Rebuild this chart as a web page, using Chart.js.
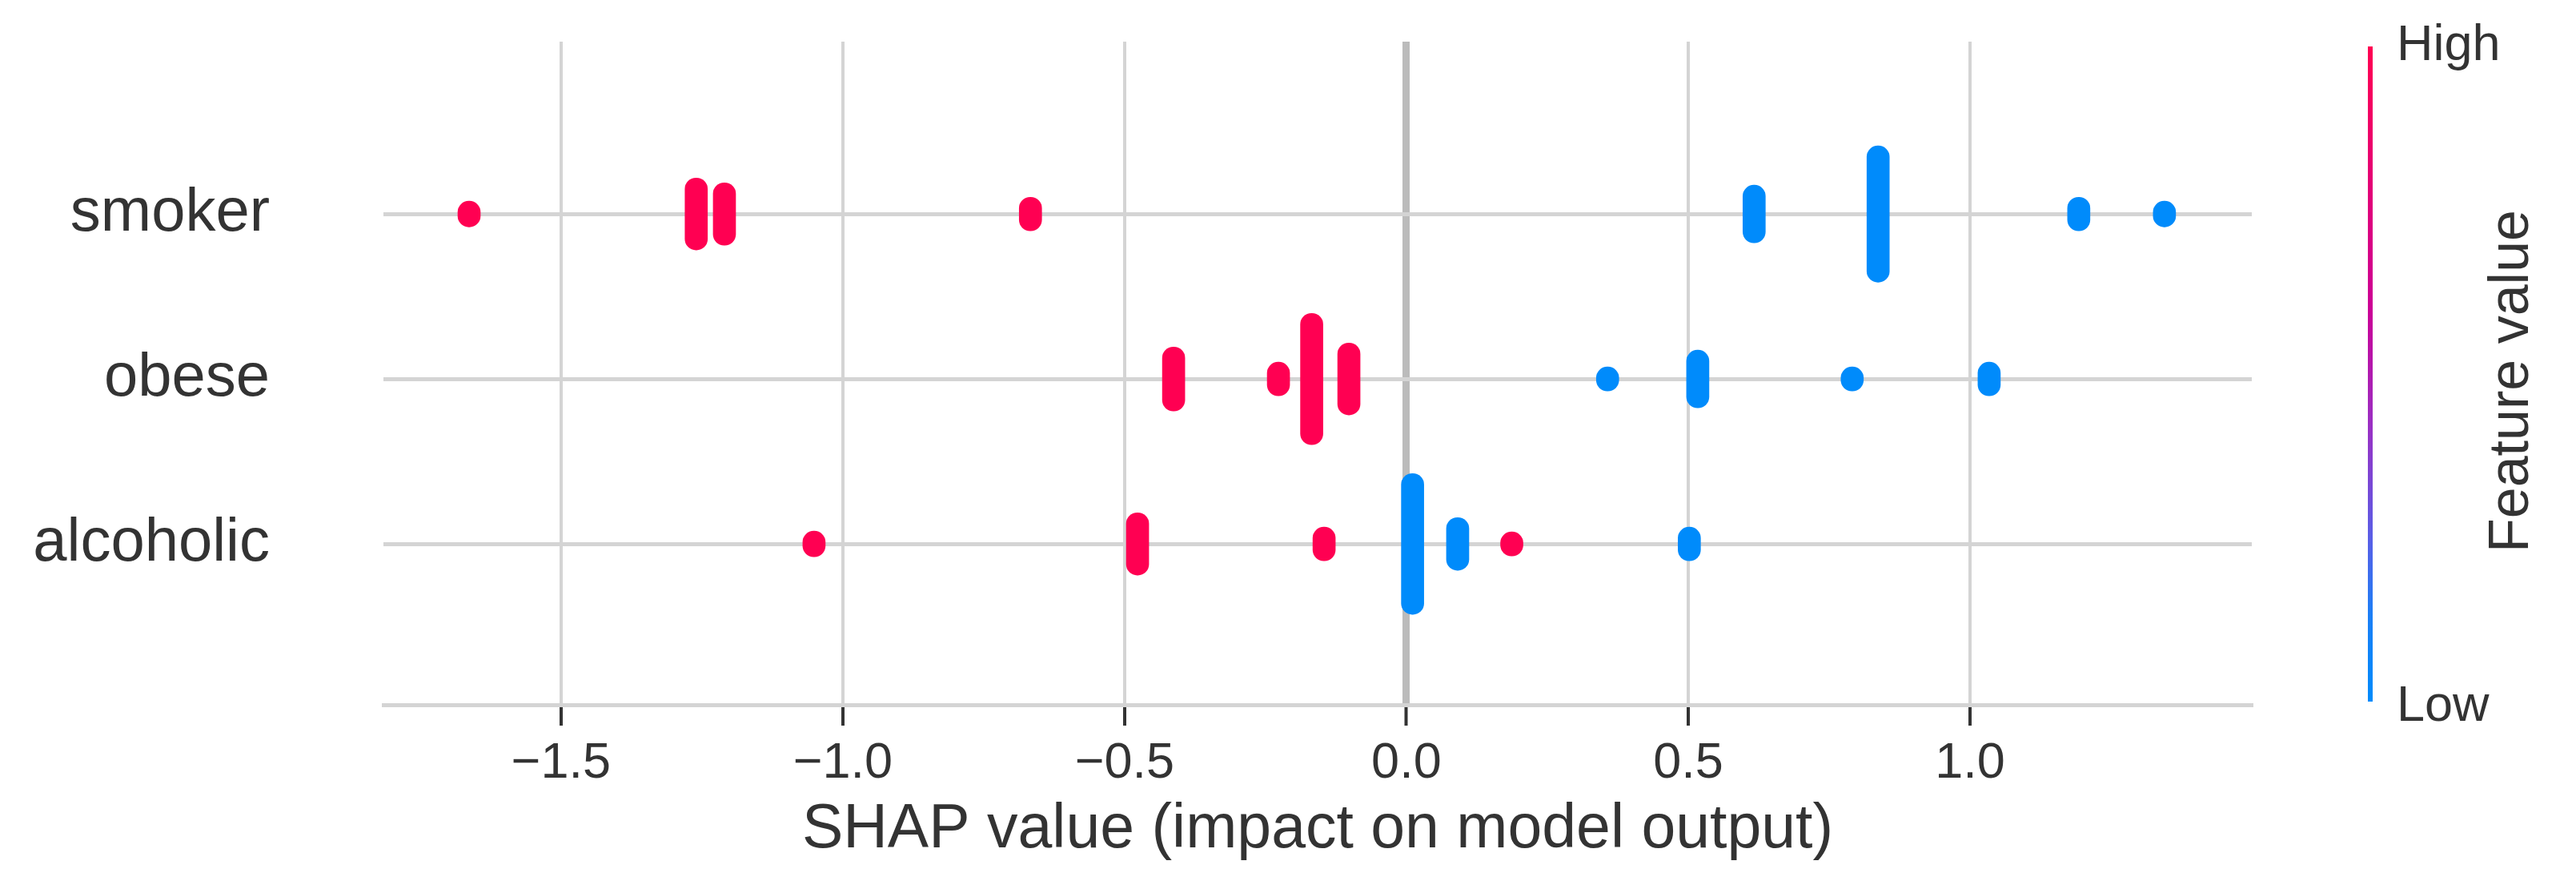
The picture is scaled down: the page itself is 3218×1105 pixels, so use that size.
<!DOCTYPE html>
<html>
<head>
<meta charset="utf-8">
<script src="https://cdn.jsdelivr.net/npm/chart.js@4.4.1/dist/chart.umd.min.js"></script>
<style>
  html, body { margin: 0; padding: 0; background: #fff; }
  #wrap { width: 3218px; height: 1105px; }
</style>
</head>
<body>
<div id="wrap"><canvas id="shap"></canvas></div>
<script>
// rows from bottom (0) to top (2)
const features = ['alcoholic', 'obese', 'smoker'];
const xTicks = [-1.5, -1.0, -0.5, 0.0, 0.5, 1.0];

// each cluster of the beeswarm: SHAP value, half of the cluster's height (in rows), feature level
const smokerShap   = [-1.663, -1.260, -1.210, -0.667, 0.617, 0.837, 1.193, 1.345];
const smokerSpread = [0.078, 0.218, 0.189, 0.102, 0.175, 0.413, 0.102, 0.078];
const smokerLevel  = ['high', 'high', 'high', 'high', 'low', 'low', 'low', 'low'];

const obeseShap   = [-0.413, -0.227, -0.168, -0.102, 0.357, 0.517, 0.791, 1.034];
const obeseSpread = [0.194, 0.102, 0.398, 0.218, 0.073, 0.175, 0.073, 0.102];
const obeseLevel  = ['high', 'high', 'high', 'high', 'low', 'low', 'low', 'low'];

const alcoholicShap   = [-1.051, -0.477, -0.146, 0.011, 0.091, 0.187, 0.502];
const alcoholicSpread = [0.078, 0.189, 0.102, 0.427, 0.160, 0.073, 0.102];
const alcoholicLevel  = ['high', 'high', 'high', 'low', 'low', 'high', 'low'];

const RED = '#ff0052';
const BLUE = '#008bfb';
const GRID = '#d4d4d4';
const FONT = '"Liberation Sans", Arial, sans-serif';

const rows = [
  { shap: alcoholicShap, spread: alcoholicSpread, level: alcoholicLevel },
  { shap: obeseShap, spread: obeseSpread, level: obeseLevel },
  { shap: smokerShap, spread: smokerSpread, level: smokerLevel }
];

function clusters(level) {
  const out = [];
  rows.forEach((r, row) => {
    r.shap.forEach((v, i) => {
      if (r.level[i] === level) out.push({ x: v, y: [row - r.spread[i], row + r.spread[i]] });
    });
  });
  return out;
}

const colorBar = {
  id: 'colorBar',
  afterDraw(chart) {
    const ctx = chart.ctx;
    const top = 58, bottom = 876, x = 2958;
    const g = ctx.createLinearGradient(0, top, 0, bottom);
    g.addColorStop(0, RED);
    g.addColorStop(0.4, '#cc0096');
    g.addColorStop(0.58, '#9a30c4');
    g.addColorStop(0.75, '#5a5ee6');
    g.addColorStop(0.87, '#1b7ff6');
    g.addColorStop(1, BLUE);
    ctx.save();
    ctx.fillStyle = g;
    ctx.fillRect(x, top, 6, bottom - top);
    ctx.fillStyle = '#333';
    ctx.font = '63px ' + FONT;
    ctx.textAlign = 'left';
    ctx.textBaseline = 'middle';
    ctx.fillText('High', 2994, 58);
    ctx.fillText('Low', 2994, 883);
    ctx.translate(3139, 476);
    ctx.rotate(-Math.PI / 2);
    ctx.textAlign = 'center';
    ctx.font = '70px ' + FONT;
    ctx.fillText('Feature value', 0, 0);
    ctx.restore();
  }
};

new Chart(document.getElementById('shap'), {
  type: 'bar',
  data: {
    datasets: [
      { label: 'High', data: clusters('high'), backgroundColor: RED },
      { label: 'Low', data: clusters('low'), backgroundColor: BLUE }
    ]
  },
  options: {
    responsive: true,
    maintainAspectRatio: false,
    animation: false,
    devicePixelRatio: 1,
    layout: { padding: { top: 52, right: 405, bottom: 0, left: 0 } },
    datasets: {
      bar: {
        grouped: false,
        barThickness: 28,
        borderRadius: 14,
        borderSkipped: false
      }
    },
    scales: {
      x: {
        type: 'linear',
        offset: false,
        min: -1.815,
        max: 1.5,
        afterBuildTicks: s => { s.ticks = xTicks.map(v => ({ value: v })); },
        afterFit: s => { s.height = 225; s.paddingLeft = 0; s.paddingRight = 0; },
        grid: {
          offset: false,
          color: c => (c.tick && c.tick.value === 0 ? '#bbbbbb' : GRID),
          lineWidth: c => (c.tick && c.tick.value === 0 ? 9 : 4),
          tickColor: '#333',
          tickWidth: 4,
          tickLength: 26
        },
        border: { display: true, color: GRID, width: 5 },
        ticks: {
          color: '#333',
          padding: 10,
          font: { family: FONT, size: 63 },
          callback: v => v.toFixed(1).replace('-', '\u2212')
        },
        title: {
          display: true,
          text: 'SHAP value (impact on model output)',
          color: '#333',
          padding: { top: 0, bottom: 22 },
          font: { family: FONT, size: 77 }
        }
      },
      y: {
        type: 'linear',
        min: -0.975,
        max: 3.045,
        afterBuildTicks: s => { s.ticks = features.map((f, i) => ({ value: i })); },
        afterFit: s => { s.width = 479; s.paddingTop = 0; s.paddingBottom = 0; },
        grid: { color: GRID, lineWidth: 5, drawTicks: false },
        border: { display: false },
        ticks: {
          color: '#333',
          padding: 142,
          font: { family: FONT, size: 76 },
          callback: v => features[v]
        }
      }
    },
    plugins: {
      legend: { display: false },
      tooltip: { enabled: false }
    }
  },
  plugins: [colorBar]
});
</script>
</body>
</html>
